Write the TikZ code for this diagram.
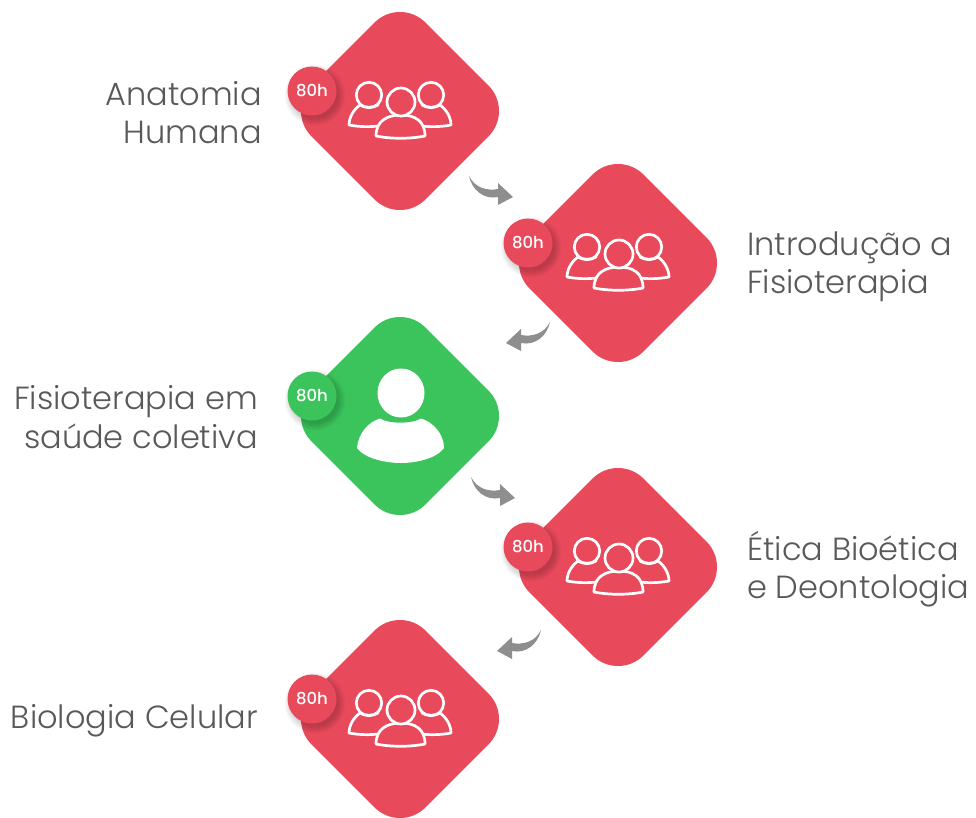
\documentclass[tikz,border=0pt]{standalone}
\usepackage{fontspec}
\setmainfont{Poppins Light}
\newfontfamily\badgefont{Poppins Medium}
\usetikzlibrary{shapes.geometric}
\definecolor{cardred}{HTML}{E84A5C}
\definecolor{cardgreen}{HTML}{3CC45C}
\definecolor{arrowgray}{HTML}{8E8E8E}
\definecolor{labelgray}{HTML}{58595B}
\tikzset{
  card/.style={diamond,aspect=1,inner sep=0pt,minimum size=228pt,rounded corners=36pt,fill=#1},
  badge/.style={circle,inner sep=0pt,minimum size=49pt,fill=#1,text=white,font=\badgefont\fontsize{16.5}{18}\selectfont},
  lbl/.style={inner sep=0pt,text=labelgray,font=\fontsize{32}{34}\selectfont},
  lblL/.style={lbl,anchor=base east},
  lblR/.style={lbl,anchor=base west},
  outline/.style={draw=white,line width=2.7pt,line join=round,line cap=round},
  pics/people/.style={code={
    \draw[outline] (-31,-16) circle (12.7);
    \draw[outline] (31,-16) circle (12.7);
    \draw[outline] (-40,-6) .. controls (-47,-1) and (-51,7) .. (-51,14) .. controls (-40,16) and (-30,16) .. (-22,15);
    \draw[outline] (40,-6) .. controls (47,-1) and (51,7) .. (51,14) .. controls (40,16) and (30,16) .. (22,15);
    \draw[outline] (-40,-6) .. controls (-36,-3) and (-26,-3) .. (-22,-6);
    \draw[outline] (40,-6) .. controls (36,-3) and (26,-3) .. (22,-6);
    \draw[outline,fill=cardred] (-24,25) .. controls (-24,10) and (-13,4) .. (1,4) .. controls (15,4) and (25,10) .. (25,25) .. controls (10,28) and (-9,28) .. (-24,25) -- cycle;
    \draw[outline,fill=cardred] (1,-9) circle (14);
  }},
  pics/person/.style={code={
    \fill[white] (1,-23) ellipse (23.5 and 24.5);
    \fill[white] (-43,32) .. controls (-42,18) and (-32,6) .. (-20,2.5) .. controls (-12,8) and (13,8) .. (21,2.5) .. controls (33,6) and (44,18) .. (44,32) .. controls (36,43) and (15,47) .. (1,47) .. controls (-13,47) and (-35,43) .. (-43,32) -- cycle;
  }},
  pics/turn/.style={code={
    \fill[arrowgray] (0,0) .. controls (6,12) and (18,15) .. (29,13) -- (29,7) -- (44,21) -- (29,29) -- (29,21) .. controls (15,24) and (3,14) .. (0,0) -- cycle;
  }}
}
\newcommand{\softshadow}[2]{%
  \foreach \k in {0,...,7}{\fill[black,opacity=0.022] (#1) ++(3,4) circle ({#2+6-\k});}}
\begin{document}
\begin{tikzpicture}[x=1pt,y=-1pt]
\useasboundingbox[fill=white] (0,0) rectangle (976,817);
% cards
\node[card=cardred] (d1) at (400,111) {};
\node[card=cardred] (d2) at (618,263) {};
\node[card=cardgreen] (d3) at (400,416) {};
\node[card=cardred] (d4) at (618,567) {};
\node[card=cardred] (d5) at (400,719) {};
% icons
\pic at (d1.center) {people};
\pic at (d2.center) {people};
\pic at (d3.center) {person};
\pic at (d4.center) {people};
\pic at (d5.center) {people};
% badges
\softshadow{312,91}{24.5}
\softshadow{528,243}{24.5}
\softshadow{312,396}{24.5}
\softshadow{528,547}{24.5}
\softshadow{312,699}{24.5}
\node[badge=cardred] (b1) at (312,91) {80h};
\node[badge=cardred] (b2) at (528,243) {80h};
\node[badge=cardgreen] (b3) at (312,396) {80h};
\node[badge=cardred] (b4) at (528,547) {80h};
\node[badge=cardred] (b5) at (312,699) {80h};
% arrows
\pic at (469,176) {turn};
\pic[xscale=-1] at (550,322) {turn};
\pic at (471,477) {turn};
\pic[xscale=-1] at (541,630) {turn};
% labels
\node[lblL] (t1a) at (262,105) {Anatomia};
\node[lblL] (t1b) at (262,143) {Humana};
\node[lblR] (t2a) at (747,255) {Introdução a};
\node[lblR] (t2b) at (747,293) {Fisioterapia};
\node[lblL] (t3a) at (258,409) {Fisioterapia em};
\node[lblL] (t3b) at (258,448) {saúde coletiva};
\node[lblR] (t4a) at (747,560) {Ética Bioética};
\node[lblR] (t4b) at (747,598) {e Deontologia};
\node[lblL] (t5a) at (258,728) {Biologia Celular};
\end{tikzpicture}
\end{document}
